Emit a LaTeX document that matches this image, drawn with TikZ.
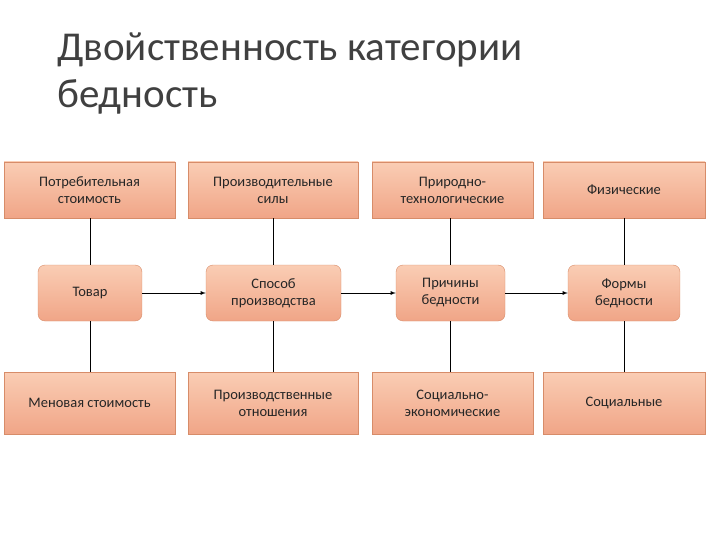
\documentclass[tikz,border=0pt]{standalone}
\usepackage{fontspec}
\setmainfont{Carlito}
\definecolor{ftop}{RGB}{250,205,180}
\definecolor{fbot}{RGB}{240,165,135}
\definecolor{bord}{RGB}{215,140,105}
\begin{document}
\begin{tikzpicture}[x=1pt,y=-1pt,
 box/.style={draw=bord, top color=ftop, bottom color=fbot, text=black!85, font=\fontsize{14.5}{17}\selectfont, align=center, inner sep=0pt},
 rbox/.style={box, rounded corners=7pt},
 ln/.style={draw=black, line width=0.8pt},
 arr/.style={ln, -latex}]
\useasboundingbox (0,0) rectangle (720,540);
\node[anchor=north west, align=left, font=\fontsize{41}{47}\selectfont, text=black!75, inner sep=0pt] (title) at (57,33) {Двойственность категории\\бедность};
% top
\node[box, minimum width=171, minimum height=56] (t1) at (89.5,190) {Потребительная\\стоимость};
\node[box, minimum width=170, minimum height=56] (t2) at (273,190) {Производительные\\силы};
\node[box, minimum width=161, minimum height=56] (t3) at (452.5,190) {Природно-\\технологические};
\node[box, minimum width=162, minimum height=56] (t4) at (624,190) {Физические};
% middle
\node[rbox, minimum width=104, minimum height=56] (m1) at (90,293) {Товар};
\node[rbox, minimum width=135, minimum height=56] (m2) at (273.5,293) {Способ\\производства};
\node[rbox, minimum width=109, minimum height=56] (m3) at (450.5,293) {Причины\\бедности};
\node[rbox, minimum width=112, minimum height=56] (m4) at (624,293) {Формы\\бедности};
% bottom
\node[box, minimum width=171, minimum height=62] (b1) at (89.5,403) {Меновая стоимость};
\node[box, minimum width=170, minimum height=62] (b2) at (273,403) {Производственные\\отношения};
\node[box, minimum width=161, minimum height=62] (b3) at (452.5,403) {Социально-\\экономические};
\node[box, minimum width=162, minimum height=62] (b4) at (624,403) {Социальные};
\foreach \i in {1,...,4}{
 \draw[ln] (t\i.south -| m\i) -- (m\i.north);
 \draw[ln] (m\i.south) -- (b\i.north -| m\i);
}
\draw[arr] (m1) -- (m2);
\draw[arr] (m2) -- (m3);
\draw[arr] (m3) -- (m4);
\end{tikzpicture}
\end{document}
